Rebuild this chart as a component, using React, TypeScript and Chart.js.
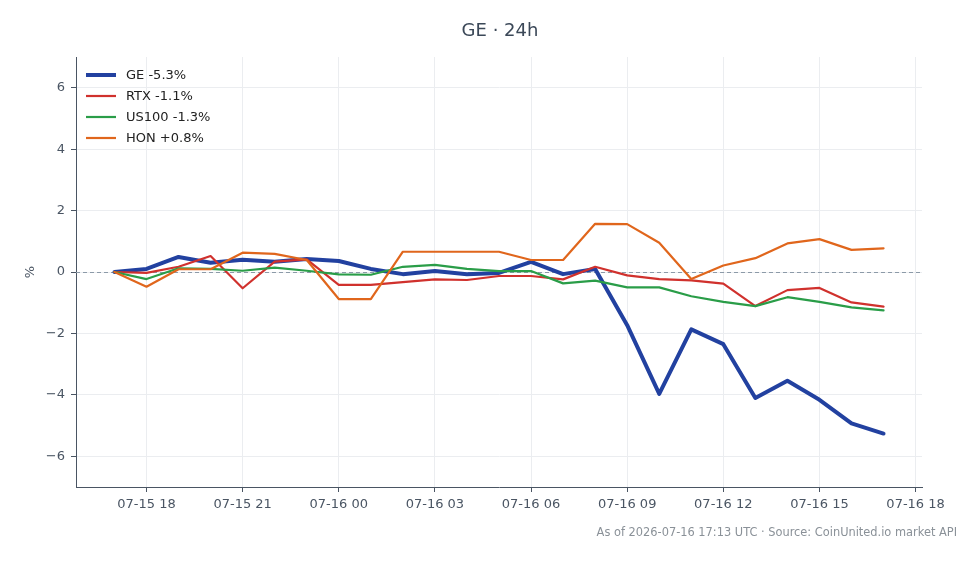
import React, { useEffect, useRef } from "react";
import { Chart, registerables } from "chart.js";

Chart.register(...registerables);

// Hours since 2026-07-15 00:00 UTC
const hours = [17, 18, 19, 20, 21, 22, 23, 24, 25, 26, 27, 28, 29, 30, 31, 32, 33, 34, 35, 36, 37, 38, 39, 40, 41];

const geValues = [0, 0.1, 0.49, 0.3, 0.4, 0.33, 0.42, 0.36, 0.1, -0.07, 0.03, -0.07, -0.03, 0.33, -0.07, 0.1, -1.73, -3.97, -1.87, -2.35, -4.1, -3.54, -4.16, -4.93, -5.26];
const rtxValues = [0, -0.03, 0.17, 0.52, -0.53, 0.34, 0.41, -0.42, -0.42, -0.33, -0.24, -0.26, -0.13, -0.13, -0.24, 0.17, -0.11, -0.23, -0.27, -0.38, -1.11, -0.59, -0.52, -0.99, -1.13];
const us100Values = [0, -0.23, 0.12, 0.1, 0.04, 0.14, 0.04, -0.08, -0.09, 0.17, 0.23, 0.1, 0.03, 0.03, -0.37, -0.28, -0.5, -0.5, -0.79, -0.97, -1.11, -0.82, -0.97, -1.15, -1.25];
const honValues = [0, -0.48, 0.09, 0.09, 0.63, 0.59, 0.39, -0.88, -0.88, 0.66, 0.66, 0.66, 0.66, 0.39, 0.39, 1.57, 1.56, 0.95, -0.23, 0.21, 0.45, 0.93, 1.07, 0.72, 0.77];

const seriesNames = ["GE -5.3%", "RTX -1.1%", "US100 -1.3%", "HON +0.8%"];
const seriesColors = ["#2241a0", "#d0312d", "#2a9d48", "#e0661c"];

const xTickHours = [18, 21, 24, 27, 30, 33, 36, 39, 42];
const xTickLabels = ["07-15 18", "07-15 21", "07-16 00", "07-16 03", "07-16 06", "07-16 09", "07-16 12", "07-16 15", "07-16 18"];
const yTickValues = [-6, -4, -2, 0, 2, 4, 6];

const titleText = "GE · 24h";
const footerText = "As of 2026-07-16 17:13 UTC · Source: CoinUnited.io market API";

const FONT = "'DejaVu Sans', sans-serif";

export default function App() {
  const ref = useRef<HTMLCanvasElement>(null);

  useEffect(() => {
    document.body.style.margin = "0";
    const canvas = ref.current;
    if (!canvas) return;

    const mk = (vals: number[]) => hours.map((h, i) => ({ x: h, y: vals[i] }));
    const all = [geValues, rtxValues, us100Values, honValues];

    const extrasPlugin = {
      id: "extras",
      beforeDatasetsDraw(chart: any) {
        const { ctx, chartArea, scales } = chart;
        const y0 = scales.y.getPixelForValue(0);
        ctx.save();
        ctx.strokeStyle = "#8c9aa8";
        ctx.lineWidth = 1;
        ctx.setLineDash([4, 3]);
        ctx.beginPath();
        ctx.moveTo(chartArea.left, Math.round(y0) + 0.5);
        ctx.lineTo(chartArea.right, Math.round(y0) + 0.5);
        ctx.stroke();
        ctx.restore();
      },
      afterDraw(chart: any) {
        const { ctx, chartArea } = chart;
        ctx.save();
        // legend
        ctx.font = `13px ${FONT}`;
        ctx.textBaseline = "middle";
        ctx.textAlign = "left";
        chart.data.datasets.forEach((ds: any, i: number) => {
          const y = chartArea.top + 18 + i * 21;
          const x0 = chartArea.left + 10;
          ctx.strokeStyle = ds.borderColor;
          ctx.lineWidth = ds.borderWidth;
          ctx.lineCap = "butt";
          ctx.beginPath();
          ctx.moveTo(x0, y);
          ctx.lineTo(x0 + 30, y);
          ctx.stroke();
          ctx.fillStyle = "#222222";
          ctx.fillText(ds.label, x0 + 40, y + 0.5);
        });
        // title
        ctx.fillStyle = "#3b4858";
        ctx.font = `18px ${FONT}`;
        ctx.textAlign = "center";
        ctx.fillText(titleText, 500, 31);
        // footer
        ctx.fillStyle = "#8a9198";
        ctx.font = `11.4px ${FONT}`;
        ctx.textAlign = "right";
        ctx.fillText(footerText, 957, 533);
        ctx.restore();
      },
    };

    const chart = new Chart(canvas, {
      type: "line",
      data: {
        datasets: all.map((vals, i) => ({
          label: seriesNames[i],
          data: mk(vals),
          borderColor: seriesColors[i],
          backgroundColor: seriesColors[i],
          borderWidth: i === 0 ? 4 : 2.2,
          pointRadius: 0,
          tension: 0,
          borderJoinStyle: "round",
          borderCapStyle: "round",
          order: 4 - i,
        })),
      },
      options: {
        responsive: false,
        animation: false,
        layout: { padding: { top: 57, right: 58, left: 0, bottom: 0 } },
        plugins: {
          title: { display: false },
          tooltip: { enabled: false },
          legend: { display: false },
        },
        scales: {
          x: {
            type: "linear",
            min: 15.8,
            max: 42.2,
            afterBuildTicks: (scale: any) => {
              scale.ticks = xTickHours.map((v) => ({ value: v }));
            },
            afterFit: (scale: any) => {
              scale.height = 77;
            },
            ticks: {
              color: "#4a5563",
              font: { family: FONT, size: 13 },
              padding: 5,
              maxRotation: 0,
              autoSkip: false,
              callback: (v: any) => {
                const idx = xTickHours.indexOf(Number(v));
                return idx >= 0 ? xTickLabels[idx] : "";
              },
            },
            grid: { color: "#ebedf0", tickColor: "#4a5563", tickLength: 5, lineWidth: 1 },
            border: { color: "#4a5563", width: 1 },
          },
          y: {
            type: "linear",
            min: -7,
            max: 7,
            afterBuildTicks: (scale: any) => {
              scale.ticks = yTickValues.map((v) => ({ value: v }));
            },
            afterFit: (scale: any) => {
              scale.width = 76;
            },
            title: {
              display: true,
              text: "%",
              color: "#4a5563",
              font: { family: FONT, size: 13 },
              padding: { top: 23, bottom: 0 },
            },
            ticks: {
              color: "#4a5563",
              font: { family: FONT, size: 13 },
              padding: 6,
              callback: (v: any) => {
                const n = Number(v);
                return n < 0 ? "\u2212" + Math.abs(n) : String(n);
              },
            },
            grid: { color: "#ebedf0", tickColor: "#4a5563", tickLength: 5, lineWidth: 1 },
            border: { color: "#4a5563", width: 1 },
          },
        },
      },
      plugins: [extrasPlugin],
    } as any);

    return () => chart.destroy();
  }, []);

  return (
    <div style={{ width: 980, height: 564, background: "#ffffff" }}>
      <canvas ref={ref} width={980} height={564} style={{ display: "block" }} />
    </div>
  );
}
